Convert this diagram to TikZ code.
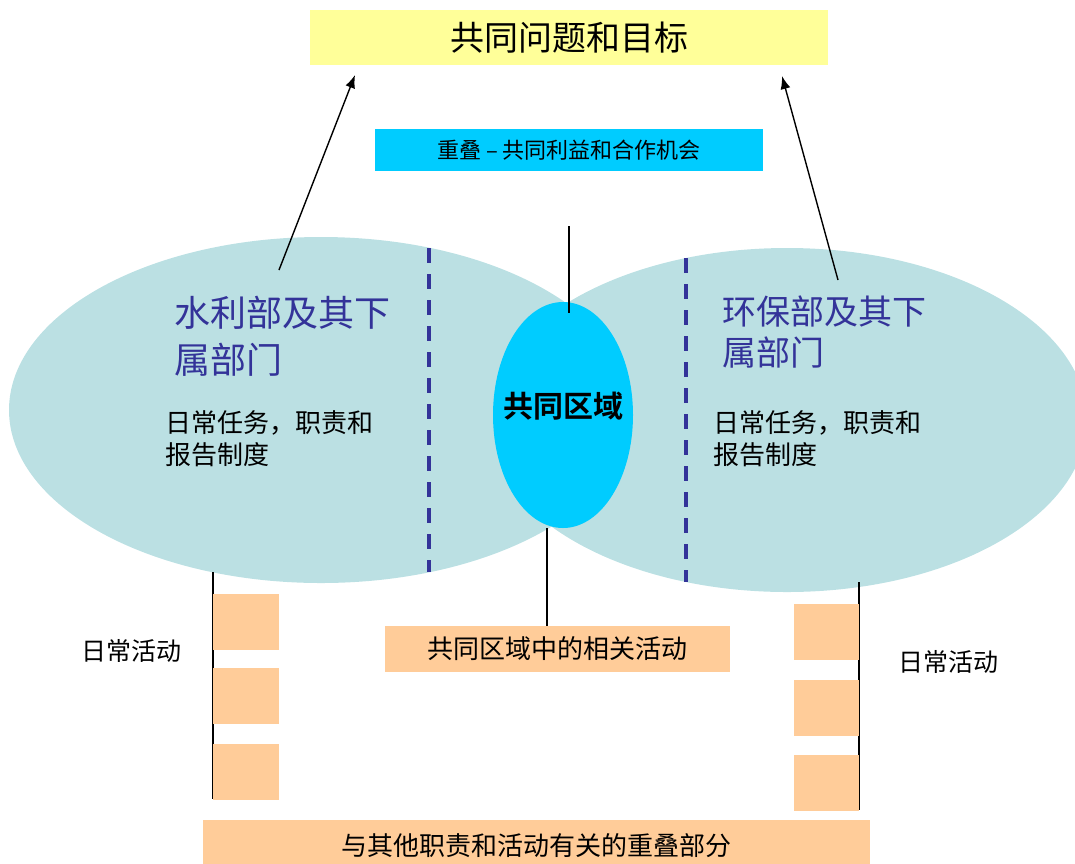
\documentclass[tikz,border=0pt]{standalone}
\usepackage{fontspec}
\setmainfont{Noto Sans CJK SC}[BoldFont={Noto Sans CJK SC Bold}]
\usetikzlibrary{shapes.geometric,arrows.meta}
\definecolor{deptblue}{RGB}{187,224,227}
\definecolor{zonecyan}{RGB}{0,204,255}
\definecolor{goalyellow}{RGB}{255,255,153}
\definecolor{actorange}{RGB}{255,204,153}
\definecolor{inkblue}{RGB}{51,51,153}
\begin{document}
\begin{tikzpicture}[x=1pt, y=-1pt,
  dept/.style = {ellipse, fill=deptblue, inner sep=0},
  actbox/.style = {fill=actorange, inner sep=0},
  divider/.style = {color=inkblue, line width=3.5pt, dash pattern=on 15pt off 11pt},
  link/.style = {line width=1.4pt}]
\clip (0,0) rectangle (1075,863);
\node (water) [dept, minimum width=624pt, minimum height=346pt] at (321,410) {};
\node (env) [dept, minimum width=600pt, minimum height=344pt] at (787,420) {};
\node (zone) [ellipse, fill=zonecyan, inner sep=0, minimum width=140pt, minimum height=226pt] at (563,415) {};
\node (zonetxt) [font=\fontsize{30}{36}\selectfont\bfseries] at (563,406) {共同区域};
\draw [divider] (429,248) -- (429,572);
\draw [divider] (686,258) -- (686,582);
\node (waterhead) [anchor=west, align=left, inner sep=0, color=inkblue,
  font=\fontsize{36}{47}\selectfont] at (174,336.5) {水利部及其下\\属部门};
\node (envhead) [anchor=west, align=left, inner sep=0, color=inkblue,
  font=\fontsize{34}{41}\selectfont] at (722,332.5) {环保部及其下\\属部门};
\node (waterduty) [anchor=west, align=left, inner sep=0,
  font=\fontsize{26}{32}\selectfont] at (165,439) {日常任务，职责和\\报告制度};
\node (envduty) [anchor=west, align=left, inner sep=0,
  font=\fontsize{26}{32}\selectfont] at (713,439) {日常任务，职责和\\报告制度};
\node (goal) [fill=goalyellow, minimum width=518pt, minimum height=55pt,
  font=\fontsize{34}{40}\selectfont] at (569,37.5) {共同问题和目标};
\node (overlap) [fill=zonecyan, minimum width=388pt, minimum height=42pt,
  font=\fontsize{22}{26}\selectfont] at (569,150) {重叠 – 共同利益和合作机会};
\coordinate (waterup) at (279,270);
\coordinate (waterarr) at (355,75);
\coordinate (envup) at (838,280);
\coordinate (envarr) at (782,76);
\draw [link, -{Latex[length=13pt,width=10pt]}] (waterup) -- (waterarr);
\draw [link, -{Latex[length=13pt,width=10pt]}] (envup) -- (envarr);
\coordinate (zonetop) at (569,226);
\draw [link] (zonetop) -- (569,313);
\node (shared) [actbox, minimum width=345pt, minimum height=46pt,
  font=\fontsize{26}{30}\selectfont] at (557.5,649) {共同区域中的相关活动};
\coordinate (zonebot) at (547,528);
\draw [link] (zonebot) -- (zonebot |- shared.north);
\coordinate (waterfoot) at (213,572);
\coordinate (waterend) at (213,799);
\draw [link] (waterfoot) -- (waterend);
\foreach \y [count=\i] in {621.5,696,772}
  \node (wact\i) [actbox, minimum width=66pt, minimum height=56pt] at (246,\y) {};
\coordinate (envfoot) at (859,582);
\coordinate (envend) at (859,810);
\draw [link] (envfoot) -- (envend);
\foreach \y [count=\i] in {631.5,707.5,783}
  \node (eact\i) [actbox, minimum width=65pt, minimum height=56pt] at (826.5,\y) {};
\node (waterdaily) [font=\fontsize{25}{30}\selectfont] at (131,651) {日常活动};
\node (envdaily) [font=\fontsize{25}{30}\selectfont] at (948,662) {日常活动};
\node (others) [actbox, minimum width=667pt, minimum height=52pt,
  font=\fontsize{26}{30}\selectfont] at (536.5,846) {与其他职责和活动有关的重叠部分};
\end{tikzpicture}
\end{document}
